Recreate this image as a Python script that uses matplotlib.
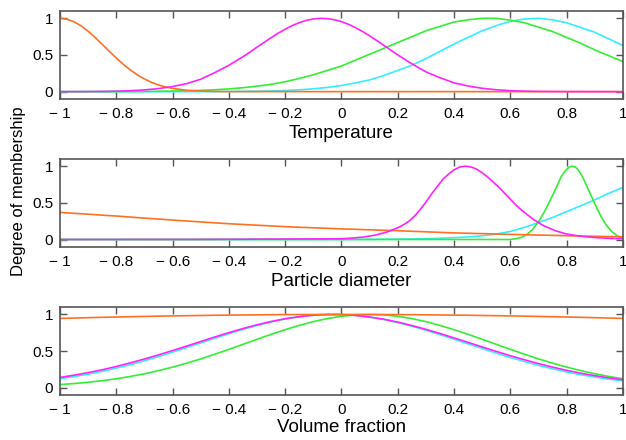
import numpy as np
import matplotlib
matplotlib.use('Agg')
import matplotlib.pyplot as plt

plt.rcParams['font.family'] = ['Liberation Sans', 'DejaVu Sans']

# colours of the four membership functions
c_orange = '#ff7020'
c_magenta = '#ff22ff'
c_green = '#33ee33'
c_cyan = '#33eeff'

# common sample grid, -1 .. 1 step 0.05
x_grid = np.linspace(-1, 1, 41)

# ---- Temperature ----
temp_orange_x = [-1.0, -0.975, -0.95, -0.925, -0.9, -0.875, -0.85, -0.825, -0.8, -0.775,
                 -0.75, -0.725, -0.7, -0.675, -0.65, -0.625, -0.6, -0.55, -0.5, -0.45,
                 -0.4, 1.0]
temp_orange = [1.0, 0.988, 0.952, 0.896, 0.823, 0.737, 0.644, 0.550, 0.458, 0.372,
               0.295, 0.228, 0.172, 0.127, 0.091, 0.064, 0.044, 0.019, 0.008, 0.003,
               0.001, 0.0]
temp_mag_x = [-1.0, -0.95, -0.9, -0.85, -0.8, -0.75, -0.7, -0.65, -0.6, -0.55,
              -0.5, -0.45, -0.4, -0.35, -0.325, -0.3, -0.275, -0.25, -0.225, -0.2,
              -0.175, -0.15, -0.125, -0.1, -0.075, -0.05, -0.025, 0.0, 0.025, 0.05,
              0.075, 0.1, 0.125, 0.15, 0.175, 0.2, 0.25, 0.3, 0.35, 0.4,
              0.45, 0.5, 0.55, 0.6, 0.65, 0.7, 0.75, 0.8, 1.0]
temp_magenta = [0.0003, 0.0007, 0.0015, 0.003, 0.0065, 0.013, 0.024, 0.042, 0.070, 0.11,
                0.17, 0.26, 0.36, 0.477, 0.541, 0.607, 0.672, 0.736, 0.797, 0.852,
                0.901, 0.941, 0.972, 0.992, 1.0, 0.996, 0.981, 0.955, 0.918, 0.873,
                0.820, 0.761, 0.698, 0.633, 0.567, 0.502, 0.38, 0.27, 0.19, 0.12,
                0.077, 0.046, 0.026, 0.014, 0.007, 0.004, 0.002, 0.001, 0.0]
temp_green = [0.0001, 0.0002, 0.0004, 0.0007, 0.0012, 0.002, 0.003, 0.005, 0.008, 0.012,
              0.018, 0.026, 0.038, 0.054, 0.075, 0.10, 0.135, 0.18, 0.23, 0.29,
              0.35, 0.43, 0.51, 0.59, 0.67, 0.75, 0.83, 0.89, 0.95, 0.98,
              1.0, 1.0, 0.975, 0.94, 0.88, 0.82, 0.74, 0.66, 0.57, 0.49, 0.41]
temp_cyan = [0, 0, 0, 0, 0, 0, 0, 0, 0, 0,
             0.0006, 0.001, 0.002, 0.0036, 0.006, 0.010, 0.016, 0.025, 0.039, 0.058,
             0.084, 0.12, 0.16, 0.22, 0.29, 0.36, 0.45, 0.55, 0.65, 0.74,
             0.83, 0.90, 0.96, 0.99, 1.0, 0.98, 0.94, 0.875, 0.81, 0.72, 0.63]

# ---- Particle diameter ----
diam_orange = [0.370, 0.357, 0.345, 0.332, 0.320, 0.306, 0.292, 0.279, 0.265, 0.252,
               0.240, 0.227, 0.215, 0.205, 0.195, 0.185, 0.175, 0.167, 0.160, 0.152,
               0.145, 0.139, 0.132, 0.126, 0.120, 0.112, 0.105, 0.097, 0.090, 0.085,
               0.080, 0.075, 0.070, 0.065, 0.061, 0.056, 0.052, 0.048, 0.044, 0.040, 0.037]
diam_cyan = [0, 0, 0, 0, 0, 0, 0, 0, 0, 0,
             0, 0, 0, 0, 0, 0, 0, 0, 0, 0,
             0.0005, 0.001, 0.002, 0.003, 0.004, 0.007, 0.011, 0.017, 0.025, 0.035,
             0.05, 0.075, 0.11, 0.165, 0.23, 0.30, 0.38, 0.46, 0.54, 0.63, 0.71]
diam_mag_x = [-1.0, -0.5, 0.00, 0.04, 0.08, 0.12, 0.16, 0.20, 0.22, 0.24, 0.26, 0.28,
              0.30, 0.32, 0.34, 0.36, 0.38, 0.40, 0.42, 0.44, 0.46, 0.48, 0.50, 0.52,
              0.54, 0.56, 0.58, 0.60, 0.62, 0.64, 0.66, 0.68, 0.70, 0.72, 0.76, 0.80,
              0.84, 0.88, 0.92, 0.96, 1.00]
diam_magenta = [0, 0.001, 0.01, 0.02, 0.035, 0.06, 0.10, 0.16, 0.20, 0.25, 0.32, 0.41,
                0.51, 0.62, 0.72, 0.82, 0.89, 0.95, 0.988, 1.0, 0.99, 0.96, 0.91, 0.85,
                0.78, 0.71, 0.63, 0.55, 0.47, 0.40, 0.34, 0.28, 0.23, 0.185, 0.12, 0.075,
                0.05, 0.033, 0.022, 0.015, 0.01]
diam_green_x = [-1.0, 0.60, 0.62, 0.64, 0.66, 0.68, 0.70, 0.72, 0.74, 0.76, 0.78, 0.79,
                0.80, 0.81, 0.82, 0.83, 0.84, 0.85, 0.86, 0.88, 0.90, 0.92, 0.94, 0.96,
                0.98, 1.00]
diam_green = [0, 0.0, 0.01, 0.03, 0.07, 0.14, 0.24, 0.37, 0.52, 0.68, 0.85, 0.91,
              0.955, 0.99, 1.0, 0.99, 0.955, 0.90, 0.83, 0.66, 0.49, 0.33, 0.20, 0.11,
              0.05, 0.02]

# ---- Volume fraction ----
vol_orange = [0.946, 0.951, 0.956, 0.961, 0.965, 0.969, 0.973, 0.977, 0.980, 0.983,
              0.986, 0.989, 0.991, 0.993, 0.995, 0.997, 0.998, 0.999, 0.999, 1.0,
              1.0, 1.0, 0.999, 0.999, 0.998, 0.997, 0.995, 0.993, 0.991, 0.989,
              0.986, 0.983, 0.980, 0.977, 0.973, 0.969, 0.965, 0.961, 0.956, 0.951, 0.946]
vol_magenta = [0.141, 0.172, 0.207, 0.246, 0.291, 0.340, 0.393, 0.449, 0.508, 0.569,
               0.631, 0.693, 0.752, 0.808, 0.859, 0.904, 0.942, 0.970, 0.990, 0.999,
               0.998, 0.987, 0.965, 0.935, 0.896, 0.849, 0.797, 0.740, 0.680, 0.619,
               0.557, 0.496, 0.437, 0.382, 0.330, 0.282, 0.238, 0.199, 0.165, 0.135, 0.110]
vol_cyan = [0.124, 0.153, 0.186, 0.225, 0.268, 0.316, 0.369, 0.426, 0.486, 0.549,
            0.612, 0.676, 0.738, 0.796, 0.850, 0.898, 0.938, 0.969, 0.989, 0.999,
            0.998, 0.986, 0.963, 0.931, 0.889, 0.840, 0.785, 0.725, 0.663, 0.599,
            0.536, 0.473, 0.414, 0.358, 0.306, 0.259, 0.216, 0.179, 0.146, 0.118, 0.095]
vol_green = [0.044, 0.058, 0.075, 0.097, 0.123, 0.155, 0.191, 0.234, 0.282, 0.336,
             0.394, 0.458, 0.524, 0.593, 0.661, 0.729, 0.792, 0.851, 0.902, 0.944,
             0.975, 0.994, 1.0, 0.994, 0.975, 0.944, 0.902, 0.851, 0.792, 0.729,
             0.661, 0.593, 0.524, 0.458, 0.394, 0.336, 0.282, 0.234, 0.191, 0.155, 0.123]

xlabels = ['Temperature', 'Particle diameter', 'Volume fraction']
xticks = [-1, -0.8, -0.6, -0.4, -0.2, 0, 0.2, 0.4, 0.6, 0.8, 1]
xtick_labels = ['\u2212 1', '\u2212 0.8', '\u2212 0.6', '\u2212 0.4', '\u2212 0.2',
                '0', '0.2', '0.4', '0.6', '0.8', '1']
yticks = [0, 0.5, 1]
ytick_labels = ['0', '0.5', '1']

fig = plt.figure(figsize=(6.26, 4.4), dpi=100)
ax1 = fig.add_axes([0.096, 0.775, 0.899, 0.200])
ax2 = fig.add_axes([0.096, 0.439, 0.899, 0.200])
ax3 = fig.add_axes([0.096, 0.102, 0.899, 0.200])

lw = 1.2
ax1.plot(x_grid, temp_cyan, color=c_cyan, lw=lw)
ax1.plot(x_grid, temp_green, color=c_green, lw=lw)
ax1.plot(temp_orange_x, temp_orange, color=c_orange, lw=lw)
ax1.plot(temp_mag_x, temp_magenta, color=c_magenta, lw=lw)

ax2.plot(x_grid, diam_cyan, color=c_cyan, lw=lw)
ax2.plot(diam_green_x, diam_green, color=c_green, lw=lw)
ax2.plot(x_grid, diam_orange, color=c_orange, lw=lw)
ax2.plot(diam_mag_x, diam_magenta, color=c_magenta, lw=lw)

ax3.plot(x_grid, vol_green, color=c_green, lw=lw)
ax3.plot(x_grid, vol_cyan, color=c_cyan, lw=lw)
ax3.plot(x_grid, vol_magenta, color=c_magenta, lw=lw)
ax3.plot(x_grid, vol_orange, color=c_orange, lw=lw)

for ax, lab in zip([ax1, ax2, ax3], xlabels):
    ax.set_xlim(-1, 1)
    ax.set_ylim(-0.1, 1.1)
    ax.set_xticks(xticks)
    ax.set_xticklabels(xtick_labels)
    ax.set_yticks(yticks)
    ax.set_yticklabels(ytick_labels)
    ax.tick_params(direction='in', top=True, right=True, length=5, width=1,
                   color='#555555', labelsize=11)
    ax.tick_params(axis='x', pad=6)
    ax.tick_params(axis='y', pad=5)
    for sp in ax.spines.values():
        sp.set_color('#555555')
        sp.set_linewidth(1.2)
    ax.set_xlabel(lab, fontsize=13.5, labelpad=3)
ax3.xaxis.labelpad = 1

fig.text(0.029, 0.565, 'Degree of membership', rotation=90,
         ha='center', va='center', fontsize=12)

fig.savefig('out.png', dpi=100)
